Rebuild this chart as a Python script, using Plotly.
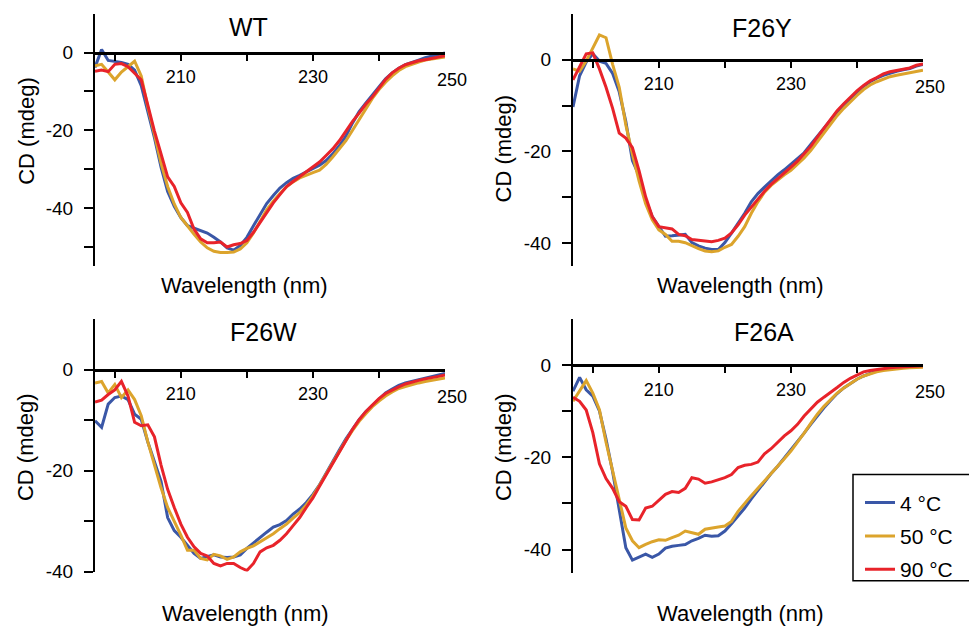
import plotly.graph_objects as go

wavelength = list(range(197, 251))

wt_4 = [-3.8, 0.8, -2.0, -2.2, -2.5, -3.0, -4.5, -8.5, -15.2, -21.9, -29.5, -35.8, -39.6, -42.5, -44.6, -45.2, -45.9, -46.5, -47.6, -48.8, -50.3, -50.9, -49.7, -47.6, -44.6, -41.7, -38.9, -36.8, -34.9, -33.5, -32.4, -31.6, -30.7, -29.9, -29.0, -27.8, -26.1, -24.0, -21.5, -18.1, -15.2, -13.0, -10.9, -8.8, -6.7, -5.2, -4.0, -3.1, -2.4, -1.9, -1.3, -0.9, -0.5, -0.1]
wt_50 = [-3.4, -3.0, -5.0, -7.0, -5.0, -3.5, -2.2, -6.0, -14.0, -21.0, -28.5, -34.5, -39.0, -42.5, -44.8, -46.8, -48.8, -50.3, -51.2, -51.5, -51.5, -51.4, -50.6, -49.0, -46.5, -43.5, -40.5, -38.3, -36.3, -34.6, -33.3, -32.3, -31.5, -30.9, -30.3, -28.8, -26.9, -24.8, -22.7, -20.0, -17.3, -14.5, -11.8, -9.5, -7.6, -6.0, -4.6, -3.6, -2.9, -2.4, -1.9, -1.6, -1.3, -1.1]
wt_90 = [-4.8, -4.5, -4.9, -3.0, -2.8, -3.6, -5.3, -7.0, -13.5, -20.2, -26.1, -32.0, -34.5, -38.7, -41.2, -45.5, -48.0, -49.0, -49.0, -48.8, -50.1, -49.5, -49.2, -48.4, -46.3, -43.8, -41.2, -38.7, -36.6, -34.5, -33.2, -32.0, -30.7, -29.5, -28.2, -26.5, -24.8, -22.7, -20.2, -17.7, -15.6, -13.3, -11.4, -9.3, -6.9, -5.2, -4.0, -3.1, -2.5, -2.1, -1.8, -1.5, -1.2, -0.8]

f26y_4 = [-10.3, -3.5, -0.5, 1.3, -0.3, -0.8, -3.0, -7.0, -13.5, -22.0, -25.3, -30.6, -34.2, -36.4, -38.5, -38.4, -38.3, -38.1, -39.9, -40.6, -41.1, -41.4, -41.4, -39.9, -37.8, -35.6, -33.5, -31.0, -29.2, -27.8, -26.4, -25.1, -24.0, -22.8, -21.7, -20.3, -18.5, -16.7, -14.9, -13.1, -11.4, -9.8, -8.4, -7.1, -5.8, -4.8, -4.0, -3.4, -2.9, -2.5, -2.2, -1.9, -1.4, -1.0]
f26y_50 = [-2.0, -2.5, -0.3, 2.5, 5.4, 4.8, -1.0, -6.0, -14.2, -20.6, -26.4, -31.4, -34.9, -37.1, -38.1, -39.6, -39.6, -39.9, -40.6, -41.2, -41.7, -41.9, -41.7, -40.9, -40.3, -38.5, -36.4, -33.5, -31.0, -28.9, -27.4, -26.2, -25.1, -24.1, -22.8, -21.4, -19.8, -17.9, -16.0, -14.1, -12.2, -10.6, -9.1, -7.8, -6.5, -5.5, -4.8, -4.2, -3.7, -3.4, -3.1, -2.9, -2.5, -2.3]
f26y_90 = [-4.4, -1.5, 1.3, 1.5, -2.0, -6.0, -10.6, -16.0, -17.1, -19.2, -24.2, -29.9, -34.2, -36.4, -36.7, -36.9, -38.1, -38.4, -39.2, -39.4, -39.6, -39.7, -39.4, -38.9, -37.8, -36.0, -33.9, -32.1, -30.3, -28.7, -27.2, -26.0, -24.6, -23.4, -22.1, -20.6, -18.9, -16.9, -14.9, -12.9, -11.1, -9.6, -8.1, -6.8, -5.6, -4.6, -3.9, -3.1, -2.6, -2.3, -2.1, -1.8, -1.2, -0.9]

f26w_4 = [-10.1, -11.4, -6.8, -5.5, -5.2, -5.9, -8.8, -9.8, -14.3, -18.2, -22.1, -29.3, -31.9, -33.2, -34.8, -36.4, -37.4, -37.1, -36.7, -37.1, -37.2, -37.1, -36.7, -35.4, -34.3, -33.3, -32.2, -31.2, -30.7, -29.9, -28.6, -27.6, -26.3, -24.7, -22.8, -20.5, -18.1, -15.9, -13.7, -11.7, -9.9, -8.3, -7.0, -5.7, -4.6, -3.8, -3.1, -2.6, -2.3, -2.0, -1.6, -1.3, -1.0, -0.7]
f26w_50 = [-2.6, -2.3, -4.6, -2.9, -5.5, -4.0, -5.9, -9.1, -14.3, -18.9, -23.4, -27.3, -29.9, -32.8, -35.8, -35.8, -37.4, -37.7, -36.6, -36.9, -37.6, -37.1, -36.1, -35.4, -34.9, -34.1, -33.3, -32.5, -31.5, -30.6, -29.4, -28.3, -26.8, -25.0, -22.9, -20.7, -18.3, -16.1, -14.0, -12.0, -10.2, -8.7, -7.3, -6.2, -5.2, -4.4, -3.7, -3.3, -2.9, -2.6, -2.3, -2.1, -1.8, -1.6]
f26w_90 = [-6.4, -6.0, -4.9, -4.0, -2.3, -5.2, -10.4, -11.1, -10.9, -13.3, -18.9, -23.7, -27.3, -30.6, -33.2, -35.1, -36.4, -36.9, -38.4, -38.9, -38.4, -38.4, -39.2, -39.8, -38.4, -36.1, -35.3, -34.8, -33.8, -32.5, -30.9, -29.3, -27.3, -25.4, -23.1, -20.8, -18.5, -16.3, -14.0, -11.8, -9.9, -8.3, -7.0, -5.7, -4.7, -4.0, -3.4, -2.8, -2.4, -2.1, -1.8, -1.6, -1.3, -1.0]

f26a_4 = [-5.6, -2.6, -5.3, -6.7, -9.9, -16.0, -23.1, -31.0, -39.6, -42.3, -41.6, -41.0, -41.7, -41.0, -39.7, -39.3, -39.1, -38.9, -38.1, -37.6, -36.9, -37.1, -37.0, -36.0, -34.4, -32.8, -31.0, -29.0, -27.1, -25.3, -23.5, -21.9, -20.1, -18.5, -16.7, -14.7, -12.8, -10.9, -9.2, -7.6, -6.1, -4.9, -3.9, -3.0, -2.3, -1.7, -1.2, -0.9, -0.6, -0.4, -0.3, -0.2, -0.1, -0.1]
f26a_50 = [-7.8, -5.6, -3.3, -6.0, -9.6, -16.7, -23.1, -29.6, -35.3, -38.1, -39.6, -38.9, -38.3, -37.9, -38.0, -37.4, -36.9, -36.0, -36.4, -36.7, -35.6, -35.3, -35.1, -34.9, -33.9, -31.7, -29.9, -28.3, -26.7, -25.1, -23.7, -22.1, -20.3, -18.6, -16.7, -14.7, -12.6, -10.6, -8.9, -7.4, -6.0, -4.9, -3.9, -3.0, -2.3, -1.8, -1.4, -1.1, -0.9, -0.7, -0.6, -0.5, -0.4, -0.4]
f26a_90 = [-6.9, -7.8, -9.7, -14.6, -21.4, -24.6, -26.7, -29.6, -30.6, -33.5, -33.6, -31.0, -30.6, -29.4, -28.0, -27.4, -27.6, -26.7, -24.4, -24.7, -25.6, -25.3, -24.9, -24.4, -23.7, -22.2, -21.7, -21.5, -21.0, -19.2, -18.1, -16.7, -15.3, -14.2, -12.8, -11.0, -9.4, -8.0, -6.9, -5.9, -4.8, -3.7, -2.8, -2.1, -1.4, -1.1, -0.9, -0.6, -0.5, -0.4, -0.3, -0.2, -0.1, -0.1]

series_names = ["4 \u00b0C", "50 \u00b0C", "90 \u00b0C"]
colors = ["#3a57a7", "#dca42c", "#e8232a"]

panels = [
    {"title": "WT", "data": [wt_4, wt_50, wt_90], "yr": [-55, 10],
     "yt": [0, -10, -20, -30, -40, -50], "ytt": ["0", "", "-20", "", "-40", ""]},
    {"title": "F26Y", "data": [f26y_4, f26y_50, f26y_90], "yr": [-45, 10],
     "yt": [0, -10, -20, -30, -40], "ytt": ["0", "", "-20", "", "-40"]},
    {"title": "F26W", "data": [f26w_4, f26w_50, f26w_90], "yr": [-40, 10],
     "yt": [0, -10, -20, -30, -40], "ytt": ["0", "", "-20", "", "-40"]},
    {"title": "F26A", "data": [f26a_4, f26a_50, f26a_90], "yr": [-45, 10],
     "yt": [0, -10, -20, -30, -40], "ytt": ["0", "", "-20", "", "-40"]},
]

# the page body has an 8 px margin, so the figure is drawn 8 px in from the window edge
OFF = 8
W, H = 977 - OFF, 629 - OFF


def px(x):
    return (x - OFF) / W


def py(y):
    return 1 - (y - OFF) / H


# window-pixel boxes of each panel's plotting area: (left, right, top, bottom)
boxes = [(95, 445, 14, 270.7), (573, 923, 14, 270.7), (95, 445, 325, 581.7), (573, 923, 325, 582.7)]
title_pos = [(248, 27), (762, 28), (263, 338), (764, 338)]
# top edge of the "Wavelength (nm)" text
xlab_pos = [(244, 276), (740, 276), (245, 610), (740, 610)]
ylab_pos = [(27, 133), (503, 151), (25, 455), (503, 455)]

FONT = "Liberation Sans, Arial, Helvetica, sans-serif"
fig = go.Figure()
annotations = []
layout_axes = {}

for i, p in enumerate(panels):
    n = "" if i == 0 else str(i + 1)
    xa, ya = "x" + n, "y" + n
    for j in range(3):
        fig.add_trace(go.Scatter(
            x=wavelength, y=p["data"][j], mode="lines", name=series_names[j],
            line=dict(color=colors[j], width=3), legendgroup=series_names[j],
            showlegend=(i == 3), xaxis=xa, yaxis=ya))
    l, r, t, b = boxes[i]
    ydom = [py(b), py(t)]
    y0, y1 = p["yr"]
    xpos = ydom[0] + (0 - y0) / (y1 - y0) * (ydom[1] - ydom[0])
    layout_axes["xaxis" + n] = dict(
        domain=[px(l), px(r)], range=[197, 250], anchor="free", position=xpos,
        showline=True, linewidth=3, linecolor="black", showgrid=False, zeroline=False,
        ticks="outside", ticklen=6, tickwidth=2, tickcolor="black",
        tickvals=[200, 210, 220, 230, 240], ticktext=["", "210", "", "230", ""],
        ticklabelstandoff=1, tickfont=dict(family=FONT, size=18, color="black"))
    layout_axes["yaxis" + n] = dict(
        domain=ydom, range=p["yr"], anchor=xa,
        showline=True, linewidth=2, linecolor="black", showgrid=False, zeroline=False,
        ticks="outside", ticklen=9, tickwidth=2, tickcolor="black",
        tickvals=p["yt"], ticktext=p["ytt"], ticklabelstandoff=7,
        tickfont=dict(family=FONT, size=19, color="black"))
    annotations.append(dict(text="250", x=250, y=0, xref=xa, yref=ya, showarrow=False,
                            xanchor="center", yanchor="middle", xshift=7, yshift=-27,
                            font=dict(family=FONT, size=18, color="black")))
    tx, ty = title_pos[i]
    annotations.append(dict(text=p["title"], x=px(tx), y=py(ty), xref="paper", yref="paper",
                            showarrow=False, xanchor="center", yanchor="middle",
                            font=dict(family=FONT, size=25, color="black")))
    lx, ly = xlab_pos[i]
    annotations.append(dict(text="Wavelength (nm)", x=px(lx), y=py(ly), xref="paper", yref="paper",
                            showarrow=False, xanchor="center", yanchor="top",
                            font=dict(family=FONT, size=22, color="black")))
    vx, vy = ylab_pos[i]
    annotations.append(dict(text="CD (mdeg)", x=px(vx), y=py(vy), xref="paper", yref="paper",
                            showarrow=False, xanchor="center", yanchor="middle", textangle=-90,
                            font=dict(family=FONT, size=22, color="black")))

fig.update_layout(
    width=W, height=H, margin=dict(l=0, r=0, t=0, b=0),
    paper_bgcolor="white", plot_bgcolor="rgba(0,0,0,0)",
    font=dict(family=FONT, color="black"),
    annotations=annotations,
    showlegend=True,
    legend=dict(x=px(860), y=py(491), xanchor="left", yanchor="top", xref="paper", yref="paper",
                bgcolor="rgba(0,0,0,0)", borderwidth=0, font=dict(family=FONT, size=21, color="black"),
                tracegroupgap=3, itemwidth=30),
    shapes=[dict(type="rect", xref="paper", yref="paper", x0=px(853), x1=px(975),
                 y0=py(591), y1=py(483), line=dict(color="black", width=1.5),
                 fillcolor="white", layer="below")],
    **layout_axes,
)
fig.write_html("out.html")
